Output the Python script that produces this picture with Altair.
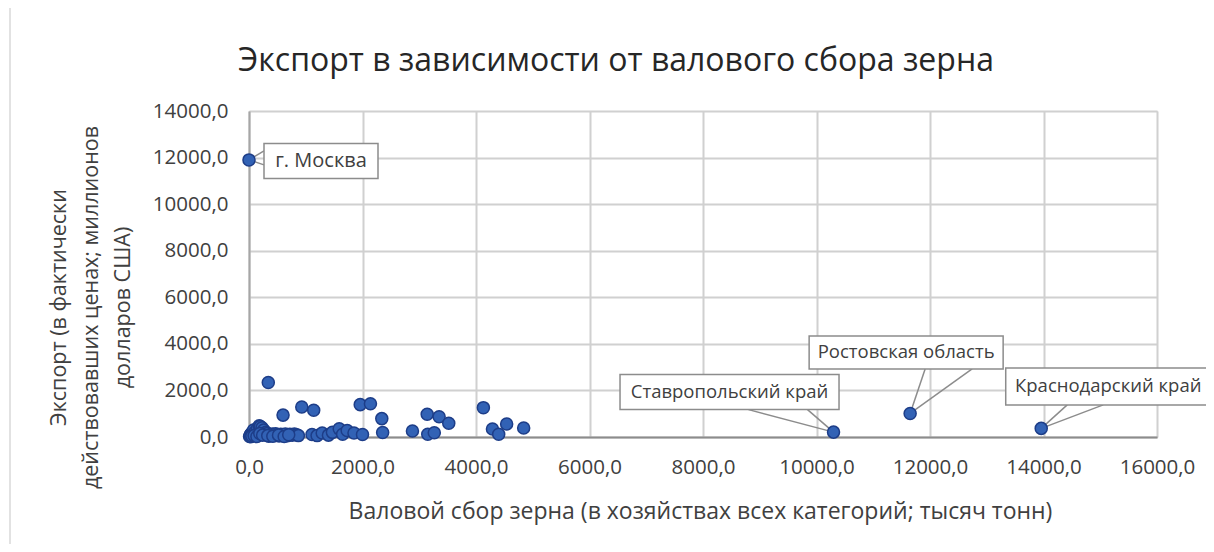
import altair as alt
import pandas as pd

# ---- data ----
grain = [
    0, 20, 40, 60, 80, 100, 120, 150, 180, 200, 230, 260, 280, 300, 320, 350, 380, 410, 440, 470,
    500, 530, 560, 600, 640, 680, 720, 760, 800, 840, 870, 10, 30, 50, 90, 140, 190, 240, 330, 420,
    520, 620, 700,
    340, 600, 930, 1140, 1960, 2140, 2340, 2355,
    1110, 1200, 1290, 1400, 1470, 1590, 1650, 1730, 1850, 2000,
    2880, 3140, 3150, 3265, 3350, 3520,
    4130, 4290, 4400, 4540, 4840,
    10300, 11650, 13960,
]
export = [
    11900, 80, 150, 200, 300, 200, 50, 380, 480, 450, 400, 300, 120, 200, 150, 30, 100, 130, 60, 140,
    100, 40, 120, 90, 130, 50, 120, 80, 130, 100, 60, 20, 10, 40, 60, 20, 150, 80, 60, 30,
    80, 20, 100,
    2340, 940, 1290, 1150, 1390, 1430, 790, 190,
    110, 60, 170, 80, 200, 350, 120, 280, 170, 110,
    260, 975, 120, 180, 870, 590,
    1260, 340, 120, 560, 390,
    210, 1010, 370,
]
region = ["г. Москва"] + [""] * (len(grain) - 4) + ["Ставропольский край", "Ростовская область", "Краснодарский край"]

df = pd.DataFrame({"grain": grain, "export": export, "region": region})

# ---- layout / style ----
X_MAX, Y_MAX = 16000, 14000
W, H = 908, 326
kx, ky = W / X_MAX, H / Y_MAX

FONT = "Open Sans"

# callout boxes: centre offset from point (px), size (px), wedge base offsets along box edge
callouts = {
    "г. Москва":           dict(dx=72, dy=1, w=114, h=35, side="left", b1=-10, b2=4, fs=20),
    "Ставропольский край": dict(dx=-104, dy=-40, w=219, h=35, side="bottom", b1=19, b2=78, fs=18.5),
    "Ростовская область":  dict(dx=-4, dy=-61, w=194, h=33, side="bottom", b1=19, b2=66, fs=18.5),
    "Краснодарский край":  dict(dx=67, dy=-42, w=205, h=37, side="bottom", b1=-41, b2=-5, fs=18.5),
}

boxes, wedges = [], []
for _, r in df[df.region != ""].iterrows():
    c = callouts[r.region]
    px, py = r.grain * kx, H - r.export * ky
    cx, cy = px + c["dx"], py + c["dy"]
    to_x = lambda v: v / kx
    to_y = lambda v: (H - v) / ky
    boxes.append(dict(region=r.region, x1=to_x(cx - c["w"] / 2), x2=to_x(cx + c["w"] / 2),
                      y1=to_y(cy - c["h"] / 2), y2=to_y(cy + c["h"] / 2),
                      tx=to_x(cx), ty=to_y(cy), fs=c["fs"]))
    for b in (c["b1"], c["b2"]):
        if c["side"] == "bottom":
            bx, by = cx + b, cy + c["h"] / 2
        else:
            bx, by = cx - c["w"] / 2, cy + b
        wedges.append(dict(x=r.grain, y=r.export, xb=to_x(bx), yb=to_y(by)))

box_df = pd.DataFrame(boxes)
wedge_df = pd.DataFrame(wedges)

xscale = alt.Scale(domain=[0, X_MAX], nice=False, zero=True)
yscale = alt.Scale(domain=[0, Y_MAX], nice=False, zero=True)

label_expr = "replace(format(datum.value, '.1f'), '.', ',')"

x_axis = alt.Axis(
    values=list(range(0, X_MAX + 1, 2000)), labelExpr=label_expr, labelFlush=False,
    title="Валовой сбор зерна (в хозяйствах всех категорий; тысяч тонн)",
    titleFont=FONT, titleFontSize=23, titleFontWeight="normal", titleColor="#404040",
    titleBaseline="middle", titleY=74, titleX=W / 2 - 3,
    labelFont=FONT, labelFontSize=20.5, labelColor="#404040", labelPadding=20,
    ticks=False, domainColor="#8c8c8c", domainWidth=2,
    grid=True, gridColor="#d0d0d0", gridWidth=2,
)
y_axis = alt.Axis(
    values=list(range(0, Y_MAX + 1, 2000)), labelExpr=label_expr, labelFlush=False,
    title=["Экспорт (в фактически", "действовавших ценах; миллионов", "долларов США)"],
    titleFont=FONT, titleFontSize=21.5, titleFontWeight="normal", titleColor="#404040",
    titleAngle=-90, titleAlign="center", titleBaseline="bottom", titleLineHeight=32,
    titleX=-179, titleY=196,
    labelFont=FONT, labelFontSize=20.5, labelColor="#404040", labelPadding=21,
    ticks=False, domainColor="#a6a6a6", domainWidth=2,
    grid=True, gridColor="#d0d0d0", gridWidth=2,
)

frame = alt.Chart(pd.DataFrame({"a": [0]})).mark_rect(
    fill=None, stroke="#d9d9d9", strokeWidth=1.5
).encode(
    x=alt.value(-239), x2=alt.value(962), y=alt.value(-109), y2=alt.value(434)
)

points = alt.Chart(df).mark_circle(
    size=145, color="#3262b5", opacity=1, stroke="#1d3d88", strokeWidth=1.5
).encode(
    x=alt.X("grain:Q", scale=xscale, axis=x_axis),
    y=alt.Y("export:Q", scale=yscale, axis=y_axis),
)

wedge_layer = alt.Chart(wedge_df).mark_rule(color="#8c8c8c", strokeWidth=1.5).encode(
    x="x:Q", y="y:Q", x2="xb:Q", y2="yb:Q"
)

box_layer = alt.Chart(box_df).mark_rect(fill="white", stroke="#8c8c8c", strokeWidth=1.5).encode(
    x="x1:Q", x2="x2:Q", y="y1:Q", y2="y2:Q"
)

text_layer = alt.Chart(box_df).mark_text(
    font=FONT, color="#404040", align="center", baseline="middle"
).encode(
    x="tx:Q", y="ty:Q", text="region:N",
    size=alt.Size("fs:Q", scale=None, legend=None),
)

chart = alt.layer(frame, wedge_layer, box_layer, text_layer, points).properties(
    width=W, height=H,
    title=alt.TitleParams(
        "Экспорт в зависимости от валового сбора зерна",
        font=FONT, fontSize=32, fontWeight="normal", color="#262626",
        anchor="middle", dx=-87, dy=102, offset=0, baseline="alphabetic",
    ),
    autosize=alt.AutoSizeParams(type="none"),
    padding={"left": 241, "top": 103, "right": 49, "bottom": 107},
).configure_view(stroke=None).configure(background="white")

chart.save("out.html", embed_options={"renderer": "svg", "actions": False})
